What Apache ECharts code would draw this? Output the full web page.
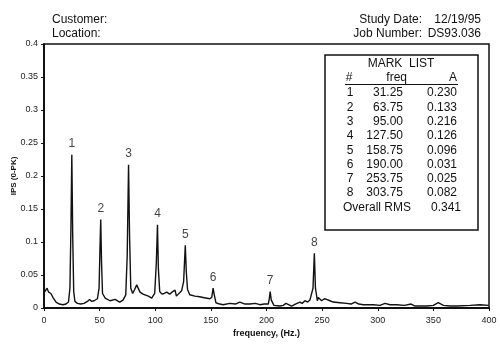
<!DOCTYPE html>
<html><head><meta charset="utf-8">
<script src="https://cdn.jsdelivr.net/npm/echarts@6/dist/echarts.min.js"></script>
<style>html,body{margin:0;padding:0;background:#fff}#c{width:500px;height:344px}</style>
</head><body><div id="c"></div>
<script>
// Spectrum trace (frequency in axis units, amplitude IPS 0-PK)
const freq = [
  0.5, 1.2, 2, 2.7, 3.5, 4.2, 5, 5.4, 6.2, 6.9,
  8.4, 10.8, 13.8, 17, 19.8, 22, 23.3, 24.2, 25, 25.8,
  26.7, 27.8, 30, 33, 36, 39, 41, 43, 45, 48,
  49.5, 50.3, 51, 51.7, 52.6, 55, 59.3, 64, 68, 71,
  73.5, 74.8, 76, 76.9, 78, 79.7, 81.5, 83.3, 86.3, 89,
  93.8, 96.8, 99.5, 101, 102, 102.8, 104, 106, 108, 110.3,
  113, 115, 117.8, 119, 120.7, 123.7, 125.5, 127, 127.9, 129,
  131, 135.7, 140, 143, 149, 150.8, 152, 152.8, 154.5, 158,
  161, 167, 172, 176, 180.7, 185, 190, 194, 198, 201.6,
  202.5, 203.3, 204.3, 206.7, 212, 215, 217.5, 219, 222.6, 226,
  230, 232, 234.6, 237, 239, 240.6, 241.8, 243, 244, 245.7,
  246.6, 247.5, 249.6, 252, 254, 257, 260, 266, 272, 276,
  279.6, 283, 287, 296, 302, 306.5, 311, 317, 324, 330,
  333.5, 344, 350, 354.4, 359, 365, 371, 383, 392, 399.5
];
const amp = [
  0.024, 0.027, 0.025, 0.030, 0.027, 0.024, 0.027, 0.026, 0.022, 0.020,
  0.015, 0.009, 0.006, 0.005, 0.006, 0.009, 0.030, 0.120, 0.232, 0.110,
  0.025, 0.010, 0.007, 0.006, 0.007, 0.010, 0.013, 0.010, 0.011, 0.014,
  0.030, 0.090, 0.134, 0.070, 0.022, 0.015, 0.011, 0.013, 0.009, 0.012,
  0.020, 0.080, 0.217, 0.110, 0.030, 0.022, 0.028, 0.035, 0.024, 0.021,
  0.018, 0.015, 0.022, 0.070, 0.126, 0.060, 0.025, 0.021, 0.022, 0.024,
  0.021, 0.024, 0.027, 0.018, 0.021, 0.026, 0.040, 0.095, 0.055, 0.028,
  0.020, 0.018, 0.017, 0.016, 0.014, 0.016, 0.030, 0.022, 0.008, 0.006,
  0.005, 0.007, 0.006, 0.009, 0.006, 0.006, 0.007, 0.005, 0.006, 0.006,
  0.014, 0.025, 0.012, 0.004, 0.003, 0.004, 0.007, 0.004, 0.003, 0.006,
  0.009, 0.007, 0.011, 0.009, 0.012, 0.010, 0.030, 0.083, 0.030, 0.011,
  0.016, 0.018, 0.011, 0.014, 0.013, 0.011, 0.009, 0.008, 0.007, 0.006,
  0.009, 0.006, 0.005, 0.005, 0.004, 0.007, 0.005, 0.005, 0.004, 0.006,
  0.003, 0.003, 0.004, 0.008, 0.004, 0.003, 0.003, 0.004, 0.005, 0.004
];
// Marked peaks (plot positions)
const peakFreq = [25, 51, 76, 102, 127, 152, 203.3, 243];
const peakAmp  = [0.232, 0.134, 0.217, 0.126, 0.095, 0.030, 0.025, 0.083];
// Mark list table
const markNo   = ['1','2','3','4','5','6','7','8'];
const markFreq = ['31.25','63.75','95.00','127.50','158.75','190.00','253.75','303.75'];
const markAmp  = ['0.230','0.133','0.216','0.126','0.096','0.031','0.025','0.082'];
const overallRMS = '0.341';
// Header
const headerLeft = ['Customer:', 'Location:'];
const headerLabels = ['Study Date:', 'Job Number:'];
const headerValues = ['12/19/95', 'DS93.036'];
// Axis ticks
const xTicks = {min: 0, max: 400, interval: 50};
const yTicks = {min: 0, max: 0.4, interval: 0.05};

const FONT = 'Liberation Sans, Arial, sans-serif';
const chart = echarts.init(document.getElementById('c'), null, {renderer: 'canvas'});

const lineData = freq.map((f, i) => [f, amp[i]]);
const peakData = peakFreq.map((f, i) => ({value: [f, peakAmp[i]], name: String(i + 1)}));

const graphics = [];
headerLeft.forEach((t, i) => graphics.push({type: 'text', x: 52, y: 20 + i * 14,
  style: {text: t, font: '12px ' + FONT, fill: '#111', verticalAlign: 'middle'}, z: 1}));
headerLabels.forEach((t, i) => graphics.push({type: 'text', x: 422, y: 20 + i * 14,
  style: {text: t, font: '12px ' + FONT, fill: '#111', align: 'right', verticalAlign: 'middle'}}));
headerValues.forEach((t, i) => graphics.push({type: 'text', x: 481, y: 20 + i * 14,
  style: {text: t, font: '12px ' + FONT, fill: '#111', align: 'right', verticalAlign: 'middle'}}));
// Mark list box
graphics.push({type: 'rect', shape: {x: 325, y: 55, width: 153, height: 175}, z: 100,
  style: {fill: '#fff', stroke: '#111', lineWidth: 1.5}});
const tStyle = (text, x, y, align) => ({type: 'text', x: x, y: y, z: 101,
  style: {text: text, font: '12px ' + FONT, fill: '#111', align: align, verticalAlign: 'middle'}});
graphics.push(tStyle('MARK  LIST', 401, 64, 'center'));
graphics.push(tStyle('#', 349, 78, 'center'));
graphics.push(tStyle('freq', 407, 78, 'right'));
graphics.push(tStyle('A', 457, 78, 'right'));
graphics.push({type: 'line', z: 101, shape: {x1: 345, y1: 84.5, x2: 458, y2: 84.5},
  style: {stroke: '#111', lineWidth: 1}});
markNo.forEach((n, i) => {
  const y = 93 + i * 14.3;
  graphics.push(tStyle(n, 350, y, 'center'));
  graphics.push(tStyle(markFreq[i], 403, y, 'right'));
  graphics.push(tStyle(markAmp[i], 457, y, 'right'));
});
graphics.push(tStyle('Overall RMS', 343, 208, 'left'));
graphics.push(tStyle(overallRMS, 461, 208, 'right'));

chart.setOption({
  animation: false,
  backgroundColor: '#fff',
  grid: {left: 44, right: 11, top: 44, bottom: 36, show: true, borderColor: '#111', borderWidth: 1.5,
    containLabel: false, outerBoundsMode: 'none'},
  xAxis: {
    type: 'value', min: xTicks.min, max: xTicks.max, interval: xTicks.interval,
    name: 'frequency, (Hz.)', nameLocation: 'middle', nameGap: 21, nameMoveOverlap: false,
    nameTextStyle: {fontFamily: FONT, fontSize: 9, fontWeight: 'bold', color: '#111'},
    axisLine: {lineStyle: {color: '#111', width: 2}},
    axisTick: {show: true, length: 3, lineStyle: {color: '#111'}},
    axisLabel: {fontFamily: FONT, fontSize: 9, color: '#222', margin: 8},
    splitLine: {show: false}
  },
  yAxis: {
    type: 'value', min: yTicks.min, max: yTicks.max, interval: yTicks.interval,
    name: 'IPS (0-PK)', nameLocation: 'middle', nameGap: 26, nameRotate: 90, nameMoveOverlap: false,
    nameTextStyle: {fontFamily: FONT, fontSize: 8, fontWeight: 'bold', color: '#111'},
    axisLine: {lineStyle: {color: '#111', width: 2}},
    axisTick: {show: true, length: 3, lineStyle: {color: '#111'}},
    axisLabel: {fontFamily: FONT, fontSize: 9, color: '#222', margin: 6,
      formatter: v => String(Math.round(v * 100) / 100)},
    splitLine: {show: false}
  },
  series: [
    {type: 'line', data: lineData, showSymbol: false, symbol: 'none',
      lineStyle: {color: '#111', width: 1.4}, z: 3},
    {type: 'scatter', data: peakData, symbolSize: 0, z: 4,
      label: {show: true, position: 'top', distance: 5, formatter: p => p.name,
        fontFamily: FONT, fontSize: 12, color: '#111'}}
  ],
  graphic: graphics
});
</script></body></html>
